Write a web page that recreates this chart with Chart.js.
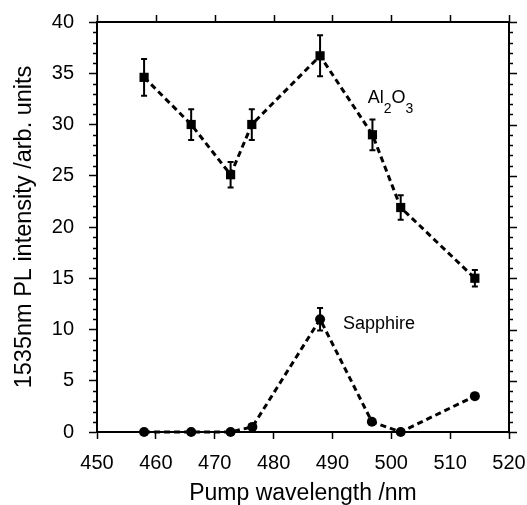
<!DOCTYPE html>
<html>
<head>
<meta charset="utf-8">
<script src="https://cdn.jsdelivr.net/npm/chart.js@4/dist/chart.umd.min.js"></script>
<style>
  html, body { margin: 0; padding: 0; background: #fff; }
  canvas { display: block; }
</style>
</head>
<body>
<canvas id="c" width="527" height="505"></canvas>
<script>
// ---- Data ----
const alWavelengths = [458, 466, 472.7, 476.3, 487.9, 496.8, 501.6, 514.2];
const alIntensity   = [34.6, 30.0, 25.1, 30.0, 36.7, 29.0, 21.9, 15.0];
const alError       = [1.8, 1.5, 1.25, 1.5, 2.0, 1.5, 1.2, 0.8];

const sapWavelengths = [458, 466, 472.7, 476.4, 487.9, 496.7, 501.6, 514.2];
const sapIntensity   = [0, 0, 0, 0.5, 11.0, 1.0, 0, 3.5];
const sapError       = [0, 0, 0, 0, 1.1, 0, 0, 0];

const xTickMin = 450, xTickMax = 520, xTickStep = 10;
const yTickMin = 0, yTickMax = 40, yTickStep = 5, yMinorStep = 1;

const xTitle = 'Pump wavelength /nm';
const yTitle = '1535nm PL intensity /arb. units';
const alLabelPos = {x: 496.0, y: 32.1};
const sapLabelPos = {x: 491.8, y: 10.05};

// ---- Chart ----
const FONT = "'Liberation Sans', Arial, Helvetica, sans-serif";
Chart.defaults.font.family = FONT;
Chart.defaults.color = '#000';

const toPts = (xs, ys) => xs.map((x, i) => ({x, y: ys[i]}));

const errorBars = {
  id: 'errorBars',
  afterDatasetsDraw(chart) {
    const {ctx, scales: {x, y}} = chart;
    const sets = [[alWavelengths, alIntensity, alError], [sapWavelengths, sapIntensity, sapError]];
    ctx.save();
    ctx.strokeStyle = '#000';
    ctx.lineWidth = 2;
    ctx.beginPath();
    sets.forEach(([xs, ys, es]) => {
      xs.forEach((xv, i) => {
        if (!es[i]) return;
        const px = x.getPixelForValue(xv);
        const top = y.getPixelForValue(ys[i] + es[i]);
        const bot = y.getPixelForValue(ys[i] - es[i]);
        ctx.moveTo(px, top); ctx.lineTo(px, bot);
        ctx.moveTo(px - 3, top); ctx.lineTo(px + 3, top);
        ctx.moveTo(px - 3, bot); ctx.lineTo(px + 3, bot);
      });
    });
    ctx.stroke();
    ctx.restore();
  }
};

const frame = {
  id: 'frame',
  afterDraw(chart) {
    const {ctx, chartArea: a, scales: {x, y}} = chart;
    ctx.save();
    ctx.strokeStyle = '#000';
    ctx.lineWidth = 2;
    ctx.beginPath();
    ctx.moveTo(a.left - 1, a.top);
    ctx.lineTo(a.right, a.top);
    ctx.lineTo(a.right, a.bottom + 1);
    ctx.stroke();

    ctx.lineWidth = 1.5;
    ctx.beginPath();
    for (let v = yTickMin; v <= yTickMax; v += yMinorStep) {
      const py = Math.round(y.getPixelForValue(v)) + 0.5;
      const major = v % yTickStep === 0;
      if (!major) { ctx.moveTo(a.left - 4, py); ctx.lineTo(a.left + 1, py); }
      ctx.moveTo(a.right - 1, py); ctx.lineTo(a.right + (major ? 8 : 4), py);
    }
    for (let v = xTickMin; v <= xTickMax; v += xTickStep) {
      const px = Math.round(x.getPixelForValue(v)) + 0.5;
      ctx.moveTo(px, a.top + 1); ctx.lineTo(px, a.top - 7);
    }
    ctx.stroke();

    // annotations
    ctx.fillStyle = '#000';
    ctx.textBaseline = 'alphabetic';
    ctx.textAlign = 'left';
    let px = x.getPixelForValue(alLabelPos.x);
    const py = y.getPixelForValue(alLabelPos.y);
    const parts = [['Al', 18, 0], ['2', 14, 10], ['O', 18, 0], ['3', 14, 10]];
    parts.forEach(([t, s, dy]) => {
      ctx.font = s + 'px ' + FONT;
      ctx.fillText(t, px, py + dy);
      px += ctx.measureText(t).width;
    });
    ctx.font = '18px ' + FONT;
    ctx.fillText('Sapphire', x.getPixelForValue(sapLabelPos.x), y.getPixelForValue(sapLabelPos.y));
    ctx.restore();
  }
};

new Chart(document.getElementById('c'), {
  type: 'line',
  data: {
    datasets: [
      {
        label: 'Al2O3',
        data: toPts(alWavelengths, alIntensity),
        borderColor: '#000',
        backgroundColor: '#000',
        borderWidth: 3,
        borderDash: [6, 4],
        pointStyle: 'rect',
        pointRadius: 6.5,
        pointBorderWidth: 0,
        tension: 0,
        clip: false
      },
      {
        label: 'Sapphire',
        data: toPts(sapWavelengths, sapIntensity),
        borderColor: '#000',
        backgroundColor: '#000',
        borderWidth: 3,
        borderDash: [6, 4],
        pointStyle: 'circle',
        pointRadius: 5,
        pointBorderWidth: 0,
        tension: 0,
        clip: false
      }
    ]
  },
  options: {
    responsive: false,
    animation: false,
    layout: { padding: { top: 22, right: 18, left: 0, bottom: 0 } },
    plugins: { legend: { display: false }, tooltip: { enabled: false } },
    scales: {
      x: {
        type: 'linear',
        min: xTickMin, max: xTickMax,
        afterFit(s) { s.height = 73; s.paddingLeft = 0; s.paddingRight = 0; },
        ticks: { stepSize: xTickStep, padding: 12, font: { size: 20 }, color: '#000', maxRotation: 0 },
        grid: { display: true, drawOnChartArea: false, drawTicks: true, tickLength: 7, tickColor: '#000', tickWidth: 1.5 },
        border: { display: true, color: '#000', width: 2 },
        title: { display: true, text: xTitle, font: { size: 23, lineHeight: 1 }, color: '#000', padding: { top: 0, bottom: 0 } }
      },
      y: {
        type: 'linear',
        min: yTickMin, max: yTickMax,
        afterFit(s) { s.width = 97; s.paddingTop = 0; s.paddingBottom = 0; },
        ticks: { stepSize: yTickStep, padding: 15, font: { size: 20 }, color: '#000' },
        grid: { display: true, drawOnChartArea: false, drawTicks: true, tickLength: 8, tickColor: '#000', tickWidth: 1.5 },
        border: { display: true, color: '#000', width: 2 },
        title: { display: true, text: yTitle, font: { size: 23.5 }, color: '#000', padding: { top: 10, bottom: 0 } }
      }
    }
  },
  plugins: [errorBars, frame]
});
</script>
</body>
</html>
